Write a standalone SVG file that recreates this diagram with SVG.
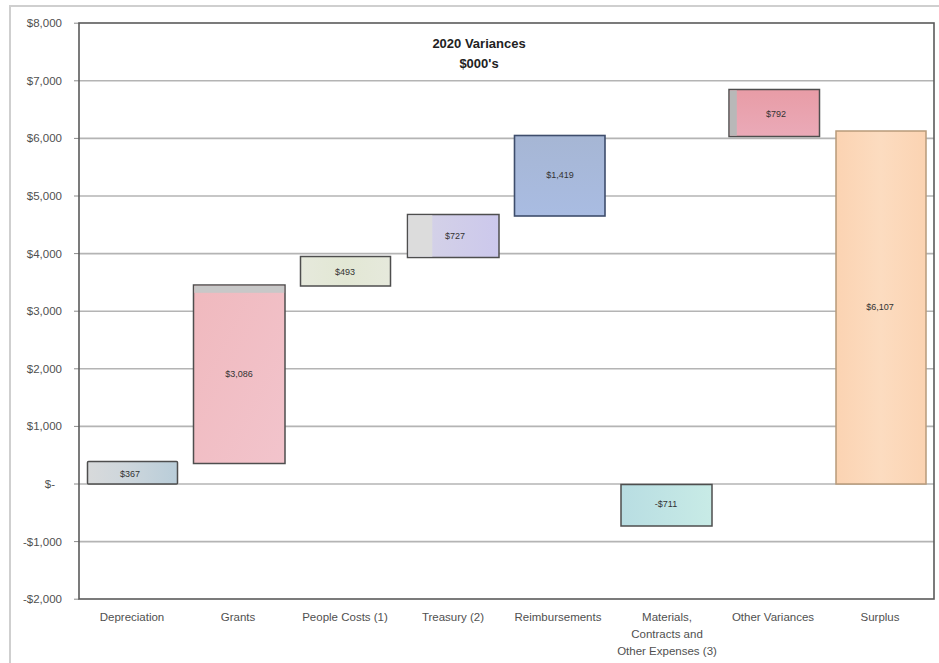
<svg xmlns="http://www.w3.org/2000/svg" width="939" height="663" viewBox="0 0 939 663">
<defs>
<style>
.ax{font-family:"Liberation Sans",Arial,sans-serif;font-size:11.5px;fill:#505050}
.cat{font-family:"Liberation Sans",Arial,sans-serif;font-size:11.5px;fill:#505050;text-anchor:middle}
.ttl{font-family:"Liberation Sans",Arial,sans-serif;font-size:13px;font-weight:bold;fill:#222;text-anchor:middle}
.lbl{font-family:"Liberation Sans",Arial,sans-serif;font-size:9px;fill:#333;text-anchor:middle}
.grid{stroke:#b4b4b4;stroke-width:1.6;fill:none}
.tick{stroke:#8a8a8a;stroke-width:1;fill:none}
.bar{stroke:#4e4e4e;stroke-width:1.5}
.strip{stroke:none}
</style>
<linearGradient id="gDep" x1="0" y1="0" x2="1" y2="0">
<stop offset="0" stop-color="#d8dadb"/><stop offset="0.45" stop-color="#cdd6dc"/><stop offset="1" stop-color="#b9cdd9"/>
</linearGradient>
<linearGradient id="gGra" x1="0" y1="0" x2="1" y2="1">
<stop offset="0" stop-color="#f0b9be"/><stop offset="1" stop-color="#f2c4cc"/>
</linearGradient>
<linearGradient id="gPeo" x1="0" y1="0" x2="1" y2="0">
<stop offset="0" stop-color="#e6e9dc"/><stop offset="0.5" stop-color="#e2e7d4"/><stop offset="1" stop-color="#e6e9dc"/>
</linearGradient>
<linearGradient id="gTre" x1="0" y1="0" x2="1" y2="0">
<stop offset="0" stop-color="#d6d4e6"/><stop offset="1" stop-color="#ccc8ec"/>
</linearGradient>
<linearGradient id="gRei" x1="0" y1="0" x2="0" y2="1">
<stop offset="0" stop-color="#a6b6d4"/><stop offset="1" stop-color="#a9bce2"/>
</linearGradient>
<linearGradient id="gMat" x1="0" y1="0" x2="1" y2="0">
<stop offset="0" stop-color="#b8dde2"/><stop offset="1" stop-color="#c8ebe6"/>
</linearGradient>
<linearGradient id="gOth" x1="0" y1="0" x2="0" y2="1">
<stop offset="0" stop-color="#e89ca6"/><stop offset="1" stop-color="#eaaab8"/>
</linearGradient>
<linearGradient id="gSur" x1="0" y1="0" x2="1" y2="0">
<stop offset="0" stop-color="#fbd3b2"/><stop offset="0.5" stop-color="#fcdcc0"/><stop offset="1" stop-color="#fbd3b2"/>
</linearGradient>
</defs>
<rect x="0" y="0" width="939" height="663" fill="#ffffff"/>
<rect id="chart-frame" x="10" y="6" width="940" height="670" fill="none" stroke="#cfcfcf" stroke-width="2"/>

<g id="gridlines">
<line class="grid" x1="79" y1="80.8" x2="934" y2="80.8"/>
<line class="grid" x1="79" y1="138.4" x2="934" y2="138.4"/>
<line class="grid" x1="79" y1="196" x2="934" y2="196"/>
<line class="grid" x1="79" y1="253.6" x2="934" y2="253.6"/>
<line class="grid" x1="79" y1="311.2" x2="934" y2="311.2"/>
<line class="grid" x1="79" y1="368.8" x2="934" y2="368.8"/>
<line class="grid" x1="79" y1="426.4" x2="934" y2="426.4"/>
<line class="grid" x1="79" y1="484" x2="934" y2="484"/>
<line class="grid" x1="79" y1="541.6" x2="934" y2="541.6"/>
</g>
<g id="ticks">
<line class="tick" x1="74" y1="23.2" x2="79" y2="23.2"/>
<line class="tick" x1="74" y1="80.8" x2="79" y2="80.8"/>
<line class="tick" x1="74" y1="138.4" x2="79" y2="138.4"/>
<line class="tick" x1="74" y1="196" x2="79" y2="196"/>
<line class="tick" x1="74" y1="253.6" x2="79" y2="253.6"/>
<line class="tick" x1="74" y1="311.2" x2="79" y2="311.2"/>
<line class="tick" x1="74" y1="368.8" x2="79" y2="368.8"/>
<line class="tick" x1="74" y1="426.4" x2="79" y2="426.4"/>
<line class="tick" x1="74" y1="484" x2="79" y2="484"/>
<line class="tick" x1="74" y1="541.6" x2="79" y2="541.6"/>
<line class="tick" x1="74" y1="599.2" x2="79" y2="599.2"/>
</g>
<rect id="plot-area" x="79" y="23" width="855" height="576" fill="none" stroke="#5a5a5a" stroke-width="1.6"/>

<g id="y-axis-labels">
<text class="ax" x="62" y="27" text-anchor="end">$8,000</text>
<text class="ax" x="62" y="84.8" text-anchor="end">$7,000</text>
<text class="ax" x="62" y="142.4" text-anchor="end">$6,000</text>
<text class="ax" x="62" y="200" text-anchor="end">$5,000</text>
<text class="ax" x="62" y="257.6" text-anchor="end">$4,000</text>
<text class="ax" x="62" y="315.2" text-anchor="end">$3,000</text>
<text class="ax" x="62" y="372.8" text-anchor="end">$2,000</text>
<text class="ax" x="62" y="430.4" text-anchor="end">$1,000</text>
<text class="ax" x="55" y="488" text-anchor="end">$-</text>
<text class="ax" x="62" y="545.6" text-anchor="end">-$1,000</text>
<text class="ax" x="62" y="603.2" text-anchor="end">-$2,000</text>
</g>

<g id="title">
<text class="ttl" x="479" y="48">2020 Variances</text>
<text class="ttl" x="479" y="68">$000's</text>
</g>

<g id="bar-depreciation">
<rect class="bar" x="87.5" y="461.5" width="90" height="22.5" fill="url(#gDep)" rx="1"/>
<text class="lbl" x="130" y="477">$367</text>
</g>
<g id="bar-grants">
<rect class="bar" x="193.5" y="285" width="91.5" height="178.5" fill="url(#gGra)"/>
<rect class="strip" x="194.3" y="285.8" width="89.9" height="7" style="fill:#c8c8c8"/>
<text class="lbl" x="239" y="377">$3,086</text>
</g>
<g id="bar-people-costs">
<rect class="bar" x="300.5" y="256.5" width="90" height="29.5" fill="url(#gPeo)"/>
<text class="lbl" x="345" y="275">$493</text>
</g>
<g id="bar-treasury">
<rect class="bar" x="407.5" y="214.5" width="91.5" height="43" fill="url(#gTre)"/>
<rect class="strip" x="408.3" y="215.3" width="24" height="41.4" style="fill:#dcdcdc"/>
<text class="lbl" x="455" y="239">$727</text>
</g>
<g id="bar-reimbursements">
<rect x="514.5" y="135.5" width="90.5" height="80.5" fill="url(#gRei)" stroke="#3e4d6c" stroke-width="1.6"/>
<text class="lbl" x="560" y="178">$1,419</text>
</g>
<g id="bar-materials">
<rect class="bar" x="621" y="484.5" width="91" height="41.5" fill="url(#gMat)"/>
<text class="lbl" x="666" y="507">-$711</text>
</g>
<g id="bar-other-variances">
<rect class="bar" x="729" y="89.5" width="90.5" height="47" fill="url(#gOth)"/>
<rect class="strip" x="729.8" y="90.3" width="7" height="45.4" style="fill:#b8b8b8"/>
<text class="lbl" x="776" y="117">$792</text>
</g>
<g id="bar-surplus">
<rect x="836" y="131" width="90" height="353" fill="url(#gSur)" stroke="#b89a7a" stroke-width="1.5"/>
<text class="lbl" x="880" y="310">$6,107</text>
</g>

<g id="x-axis-labels">
<text class="cat" x="132" y="621">Depreciation</text>
<text class="cat" x="238" y="621">Grants</text>
<text class="cat" x="345" y="621">People Costs (1)</text>
<text class="cat" x="453" y="621">Treasury (2)</text>
<text class="cat" x="558" y="621">Reimbursements</text>
<text class="cat" x="667" y="621">Materials,</text>
<text class="cat" x="667" y="638">Contracts and</text>
<text class="cat" x="667" y="655">Other Expenses (3)</text>
<text class="cat" x="773" y="621">Other Variances</text>
<text class="cat" x="880" y="621">Surplus</text>
</g>
</svg>
